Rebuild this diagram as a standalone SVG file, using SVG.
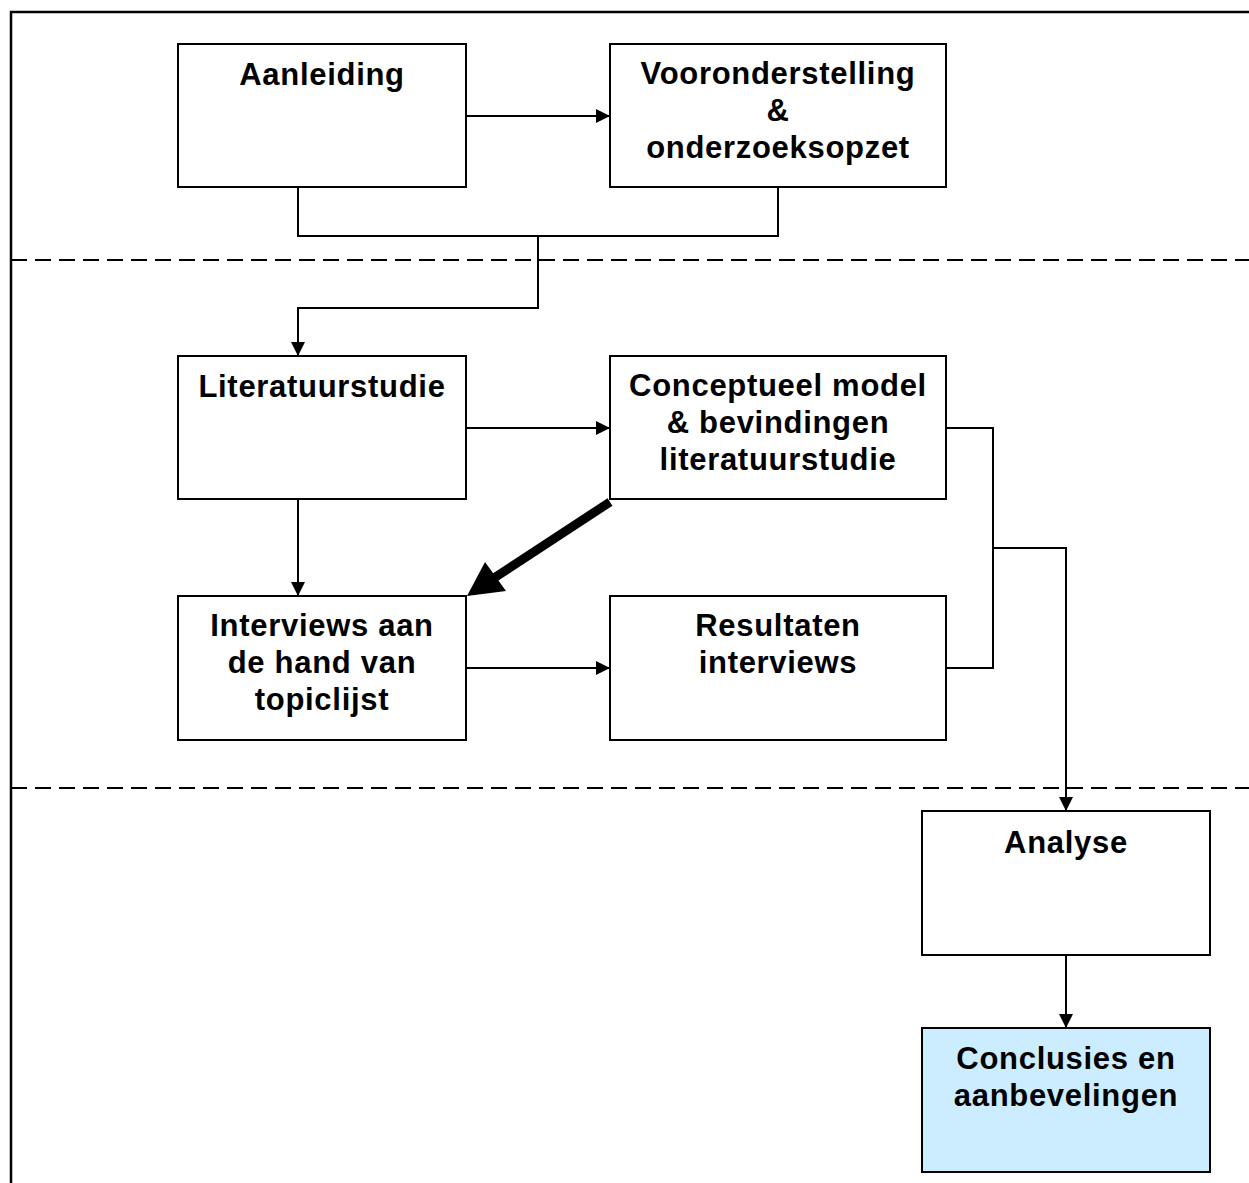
<svg xmlns="http://www.w3.org/2000/svg" width="1249" height="1183" viewBox="0 0 1249 1183">
<style>
.box{fill:#fff;stroke:#000;stroke-width:2}
.t{font-family:"Liberation Sans",Arial,sans-serif;font-weight:bold;font-size:31px;letter-spacing:0.7px;text-anchor:middle;fill:#000}
.c{fill:none;stroke:#000;stroke-width:2}
.d{fill:none;stroke:#000;stroke-width:2;stroke-dasharray:16 8}
</style>
<defs>
<marker id="ah" viewBox="0 0 14 14" refX="14" refY="7" markerWidth="14" markerHeight="14" markerUnits="userSpaceOnUse" orient="auto">
<path d="M0,0 L14,7 L0,14 Z" fill="#000"/>
</marker>
</defs>
<rect width="1249" height="1183" fill="#fff"/>
<g id="frame">
<path d="M11,1183 V12 H1249" fill="none" stroke="#000" stroke-width="2.5"/>
<line class="d" x1="11" y1="260" x2="1249" y2="260"/>
<line class="d" x1="11" y1="788" x2="1249" y2="788"/>
</g>
<g id="connectors">
<line class="c" x1="466" y1="116" x2="610" y2="116" marker-end="url(#ah)"/>
<path class="c" d="M298,187 V236 H778 V187"/>
<path class="c" d="M538,236 V308 H298 V356" marker-end="url(#ah)"/>
<line class="c" x1="466" y1="428" x2="610" y2="428" marker-end="url(#ah)"/>
<line class="c" x1="298" y1="499" x2="298" y2="596" marker-end="url(#ah)"/>
<line class="c" x1="466" y1="668" x2="610" y2="668" marker-end="url(#ah)"/>
<path class="c" d="M946,428 H993 V668 H946"/>
<path class="c" d="M993,548 H1066 V811" marker-end="url(#ah)"/>
<line class="c" x1="1066" y1="955" x2="1066" y2="1028" marker-end="url(#ah)"/>
<line x1="610" y1="502" x2="494" y2="578" stroke="#000" stroke-width="9"/>
<polygon points="467,596 485,562 506,591" fill="#000"/>
</g>
<g id="aanleiding">
<rect class="box" x="178" y="44" width="288" height="143"/>
<text class="t" x="322" y="85">Aanleiding</text>
</g>
<g id="vooronderstelling">
<rect class="box" x="610" y="44" width="336" height="143"/>
<text class="t" x="778" y="84">Vooronderstelling</text>
<text class="t" x="778" y="121">&amp;</text>
<text class="t" x="778" y="158">onderzoeksopzet</text>
</g>
<g id="literatuurstudie">
<rect class="box" x="178" y="356" width="288" height="143"/>
<text class="t" x="322" y="397">Literatuurstudie</text>
</g>
<g id="conceptueel">
<rect class="box" x="610" y="356" width="336" height="143"/>
<text class="t" x="778" y="396">Conceptueel model</text>
<text class="t" x="778" y="433">&amp; bevindingen</text>
<text class="t" x="778" y="470">literatuurstudie</text>
</g>
<g id="interviews">
<rect class="box" x="178" y="596" width="288" height="144"/>
<text class="t" x="322" y="636">Interviews aan</text>
<text class="t" x="322" y="673">de hand van</text>
<text class="t" x="322" y="710">topiclijst</text>
</g>
<g id="resultaten">
<rect class="box" x="610" y="596" width="336" height="144"/>
<text class="t" x="778" y="636">Resultaten</text>
<text class="t" x="778" y="673">interviews</text>
</g>
<g id="analyse">
<rect class="box" x="922" y="811" width="288" height="144"/>
<text class="t" x="1066" y="853">Analyse</text>
</g>
<g id="conclusies">
<rect class="box" x="922" y="1028" width="288" height="144" style="fill:#CCECFF"/>
<text class="t" x="1066" y="1069">Conclusies en</text>
<text class="t" x="1066" y="1106">aanbevelingen</text>
</g>
</svg>
